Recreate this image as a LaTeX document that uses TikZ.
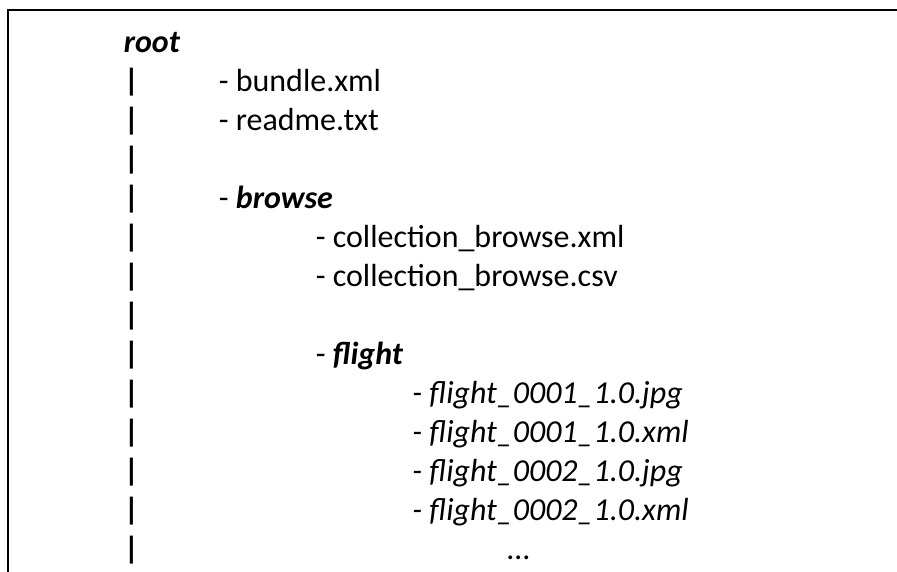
\documentclass[tikz,border=0pt]{standalone}
\usepackage{fontspec}
\setmainfont{Carlito}
\newfontfamily\pipefont{DejaVu Sans}
\usepackage{tikz}
\tikzstyle{entry}=[anchor=base west,inner sep=0pt,font=\fontsize{18.2}{22}\selectfont]
\tikzstyle{pipe}=[anchor=north,inner sep=0pt,yshift=0.46cm,font=\pipefont\fontsize{16}{20}\selectfont\bfseries]
\tikzstyle{frame}=[line width=0.04cm]
\newcommand{\pipebar}{\resizebox*{!}{0.56cm}{|}}

\begin{document}
\begin{tikzpicture}
    \useasboundingbox (0,0) rectangle (17.94,-11.42);
    \coordinate (fb) at (0.166,-11.6);
    \coordinate (ft) at (0.166,-0.2);
    \coordinate (fr) at (18.1,-0.2);
    \draw[frame] (fb) -- (ft) -- (fr);
%    top level
    \node[entry] (root) at (2.47,-1.04) {\textbf{\textit{root}}};
    \node[pipe] (p1) at (2.63,-1.82) {\pipebar};
    \node[pipe] (p2) at (2.63,-2.60) {\pipebar};
    \node[pipe] (p3) at (2.63,-3.38) {\pipebar};
    \node[pipe] (p4) at (2.63,-4.16) {\pipebar};
    \node[pipe] (p5) at (2.63,-4.94) {\pipebar};
    \node[pipe] (p6) at (2.63,-5.72) {\pipebar};
    \node[pipe] (p7) at (2.63,-6.50) {\pipebar};
    \node[pipe] (p8) at (2.63,-7.28) {\pipebar};
    \node[pipe] (p9) at (2.63,-8.06) {\pipebar};
    \node[pipe] (p10) at (2.63,-8.84) {\pipebar};
    \node[pipe] (p11) at (2.63,-9.62) {\pipebar};
    \node[pipe] (p12) at (2.63,-10.40) {\pipebar};
    \node[pipe] (p13) at (2.63,-11.18) {\pipebar};
    \node[entry] (bundle) at (4.37,-1.82) {- bundle.xml};
    \node[entry] (readme) at (4.37,-2.60) {- readme.txt};
    \node[entry] (browse) at (4.37,-4.16) {- \textbf{\textit{browse}}};
%    browse folder
    \node[entry] (colxml) at (6.31,-4.94) {- collection\_browse.xml};
    \node[entry] (colcsv) at (6.31,-5.72) {- collection\_browse.csv};
    \node[entry] (flight) at (6.31,-7.28) {- \textbf{\textit{flight}}};
%    flight folder
    \node[entry] (f1jpg) at (8.24,-8.06) {\textit{- flight\_0001\_1.0.jpg}};
    \node[entry] (f1xml) at (8.24,-8.84) {\textit{- flight\_0001\_1.0.xml}};
    \node[entry] (f2jpg) at (8.24,-9.62) {\textit{- flight\_0002\_1.0.jpg}};
    \node[entry] (f2xml) at (8.24,-10.40) {\textit{- flight\_0002\_1.0.xml}};
    \node[entry] (more) at (10.14,-11.18) {…};
\end{tikzpicture}
\end{document}
